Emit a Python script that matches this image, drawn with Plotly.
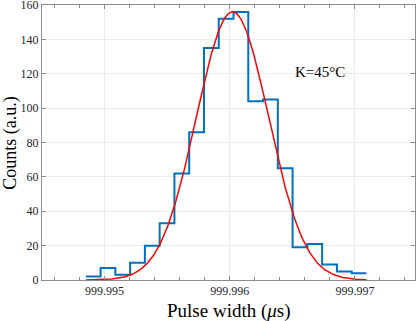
import numpy as np
import plotly.graph_objects as go

# histogram of pulse widths (us), 19 bins
bin_start = 999.99485
bin_width = 0.000118
counts = [2, 7, 3, 10, 20, 33, 62, 86, 135, 152, 156, 104, 105, 65, 19, 21, 9, 5, 4]

# gaussian fit parameters
fit_amp = 156
fit_mu = 999.996022
fit_sigma = 0.000289

label_text = "K=45°C"

edges = bin_start + bin_width * np.arange(len(counts) + 1)
step_y = counts + [counts[-1]]

xfit = np.linspace(edges[0], edges[-1], 300)
yfit = fit_amp * np.exp(-((xfit - fit_mu) ** 2) / (2 * fit_sigma ** 2))

fig = go.Figure()
fig.add_trace(go.Scatter(
    x=edges, y=step_y, mode="lines", line_shape="hv",
    line=dict(color="#0072BD", width=2), showlegend=False,
))
fig.add_trace(go.Scatter(
    x=xfit, y=yfit, mode="lines",
    line=dict(color="#FF0000", width=1.5), showlegend=False,
))

serif = "Liberation Serif"
fig.add_annotation(
    x=999.99672, y=121, text=label_text, showarrow=False,
    font=dict(family=serif, size=15, color="#000000"),
)
# axis titles placed by hand
fig.add_annotation(
    x=0.5, y=-0.112, xref="paper", yref="paper", xanchor="center", yanchor="middle",
    text="Pulse width (<i>μ</i>s)", showarrow=False,
    font=dict(family=serif, size=19, color="#000000"),
)
fig.add_annotation(
    x=-0.085, y=0.5, xref="paper", yref="paper", xanchor="center", yanchor="middle",
    textangle=-90, text="Counts (a.u.)", showarrow=False, borderpad=0,
    font=dict(family=serif, size=18, color="#000000"),
)

axis_common = dict(
    showline=True, linecolor="#8c8c8c", linewidth=1, mirror="allticks",
    ticks="inside", ticklen=4, tickcolor="#8c8c8c",
    showgrid=True, gridcolor="#ebebeb", gridwidth=1, zeroline=False,
    automargin=False, ticklabeloverflow="allow",
    tickfont=dict(family=serif, size=12, color="#262626"),
)

fig.update_layout(
    width=419, height=321,
    margin=dict(l=42, r=4, t=5, b=41),
    plot_bgcolor="white", paper_bgcolor="white",
    xaxis=dict(
        range=[999.9945, 999.99748], tickvals=[999.995, 999.996, 999.997],
        ticktext=["999.995", "999.996", "999.997"],
        minor=dict(ticks="inside", ticklen=3, tickcolor="#8c8c8c", dtick=0.0002,
                   tick0=999.995, showgrid=False),
        **axis_common,
    ),
    yaxis=dict(range=[0, 160], dtick=20, **axis_common),
)

# drop the page's default body margin so the figure sits at the top-left corner
fig.write_html("out.html", config={"displayModeBar": False},
               post_script="document.body.style.margin='0';")
